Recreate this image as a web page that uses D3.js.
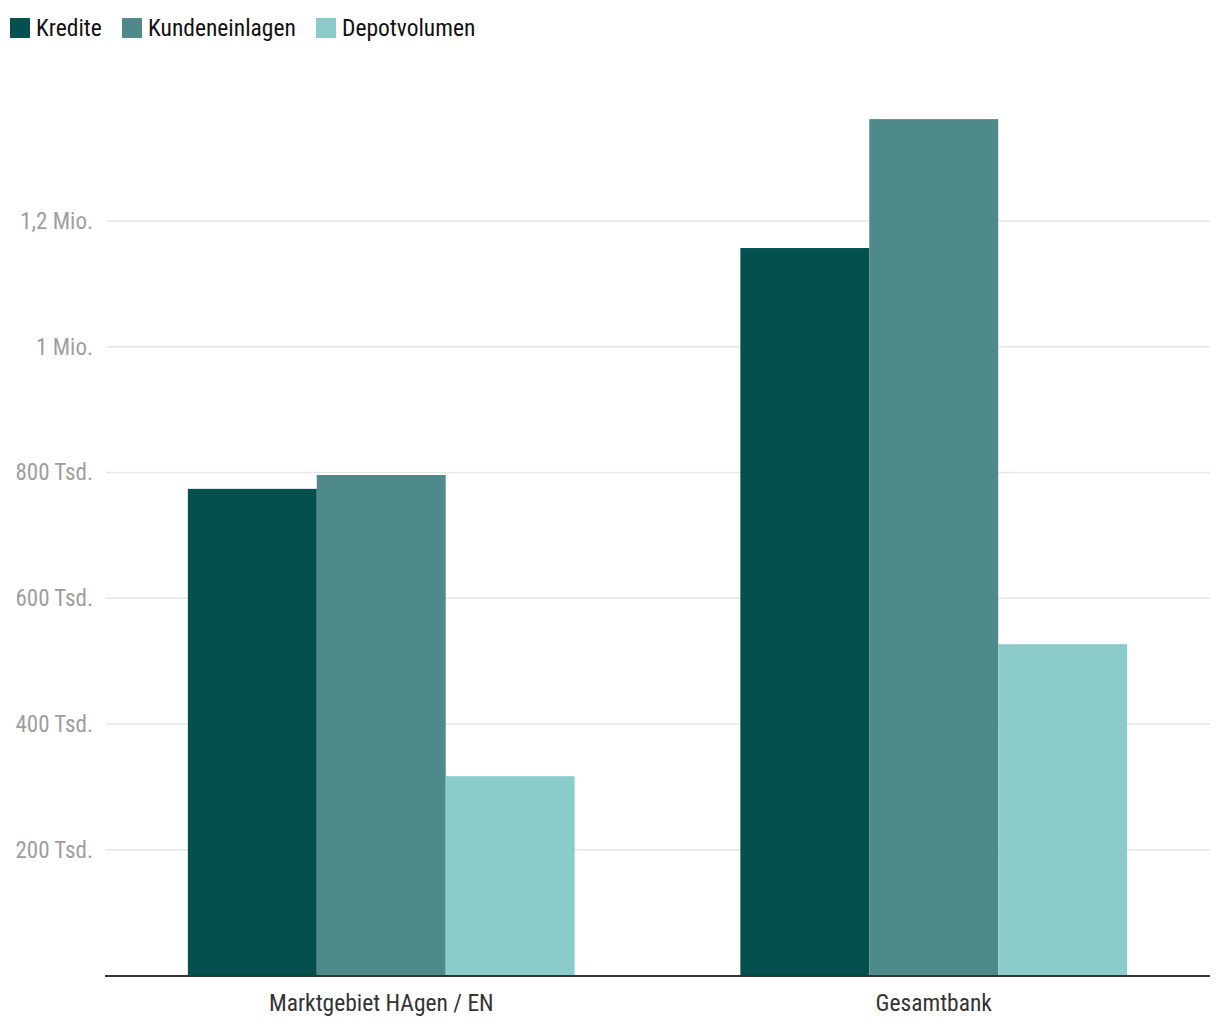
<!DOCTYPE html>
<html><head><meta charset="utf-8">
<script src="https://cdn.jsdelivr.net/npm/d3@7"></script>
<style>
html,body{margin:0;padding:0;background:#fff;}
svg{display:block;}
svg text{font-family:"Liberation Sans Narrow","Roboto Condensed","Arial Narrow",sans-serif;}
</style></head>
<body>
<script>
const categories = ["Marktgebiet HAgen / EN", "Gesamtbank"];
const seriesNames = ["Kredite", "Kundeneinlagen", "Depotvolumen"];
const kredite = [774000, 1157000];
const kundeneinlagen = [796000, 1362000];
const depotvolumen = [317000, 527000];
const tickValues = [200000, 400000, 600000, 800000, 1000000, 1200000];
const tickLabels = ["200 Tsd.", "400 Tsd.", "600 Tsd.", "800 Tsd.", "1 Mio.", "1,2 Mio."];
const colors = ["#03504f", "#4e8a8a", "#8bcccb"];

const seriesValues = [kredite, kundeneinlagen, depotvolumen];
const W = 1220, H = 1020;
const left = 105, right = 1210;
const FONT = '"Liberation Sans Narrow","Roboto Condensed","Arial Narrow",sans-serif';
const svg = d3.select("body").append("svg").attr("width", W).attr("height", H);

const x0 = d3.scaleBand().domain(categories).range([left, right]).paddingInner(0.3).paddingOuter(0.15);
const x1 = d3.scaleBand().domain(seriesNames).range([0, x0.bandwidth()]);
const y = d3.scaleLinear().domain([0, 1200000]).range([975.5, 221]);

// grid
svg.append("g").selectAll("line").data(tickValues).join("line")
  .attr("x1", left + 1).attr("x2", right)
  .attr("y1", d => y(d)).attr("y2", d => y(d))
  .attr("stroke", "#e6e6e6").attr("stroke-width", 1.5);
const yAxis = d3.axisLeft(y).tickValues(tickValues).tickSize(0)
  .tickFormat((d,i) => tickLabels[i]);
const gy = svg.append("g").attr("transform", `translate(${left},0)`).call(yAxis)
  .attr("font-family", FONT);
gy.select(".domain").remove();
gy.selectAll("text").attr("x", -12).attr("dy", "0.32em").attr("fill", "#9e9e9e")
  .attr("font-size", 23);

// bars
const groups = svg.append("g").selectAll("g").data(categories).join("g")
  .attr("transform", d => `translate(${x0(d)},0)`);
groups.selectAll("rect").data((c, ci) => seriesNames.map((s, si) => ({s, si, v: seriesValues[si][ci]})))
  .join("rect")
  .attr("x", d => x1(d.s)).attr("width", x1.bandwidth())
  .attr("y", d => y(d.v)).attr("height", d => y(0) - y(d.v))
  .attr("fill", d => colors[d.si]);

// x axis
const xAxis = d3.axisBottom(x0).tickSize(0);
const gx = svg.append("g").attr("transform", `translate(0,${y(0)})`).call(xAxis)
  .attr("font-family", FONT);
gx.select(".domain").remove();
gx.selectAll("text").attr("y", 35).attr("dy", 0).attr("fill", "#333")
  .attr("font-size", 23.5);
svg.append("line").attr("x1", left).attr("x2", right).attr("y1", y(0)+0.5).attr("y2", y(0)+0.5)
  .attr("stroke", "#333").attr("stroke-width", 2);

// legend
const legendX = [10, 122, 316];
const lg = svg.append("g").selectAll("g").data(seriesNames).join("g")
  .attr("transform", (d,i) => `translate(${legendX[i]},18)`);
lg.append("rect").attr("width", 20).attr("height", 20).attr("fill", (d,i) => colors[i]);
lg.append("text").attr("x", 26).attr("y", 18).text(d => d)
  .attr("fill", "#111").attr("font-size", 23.5);
</script>
</body></html>
